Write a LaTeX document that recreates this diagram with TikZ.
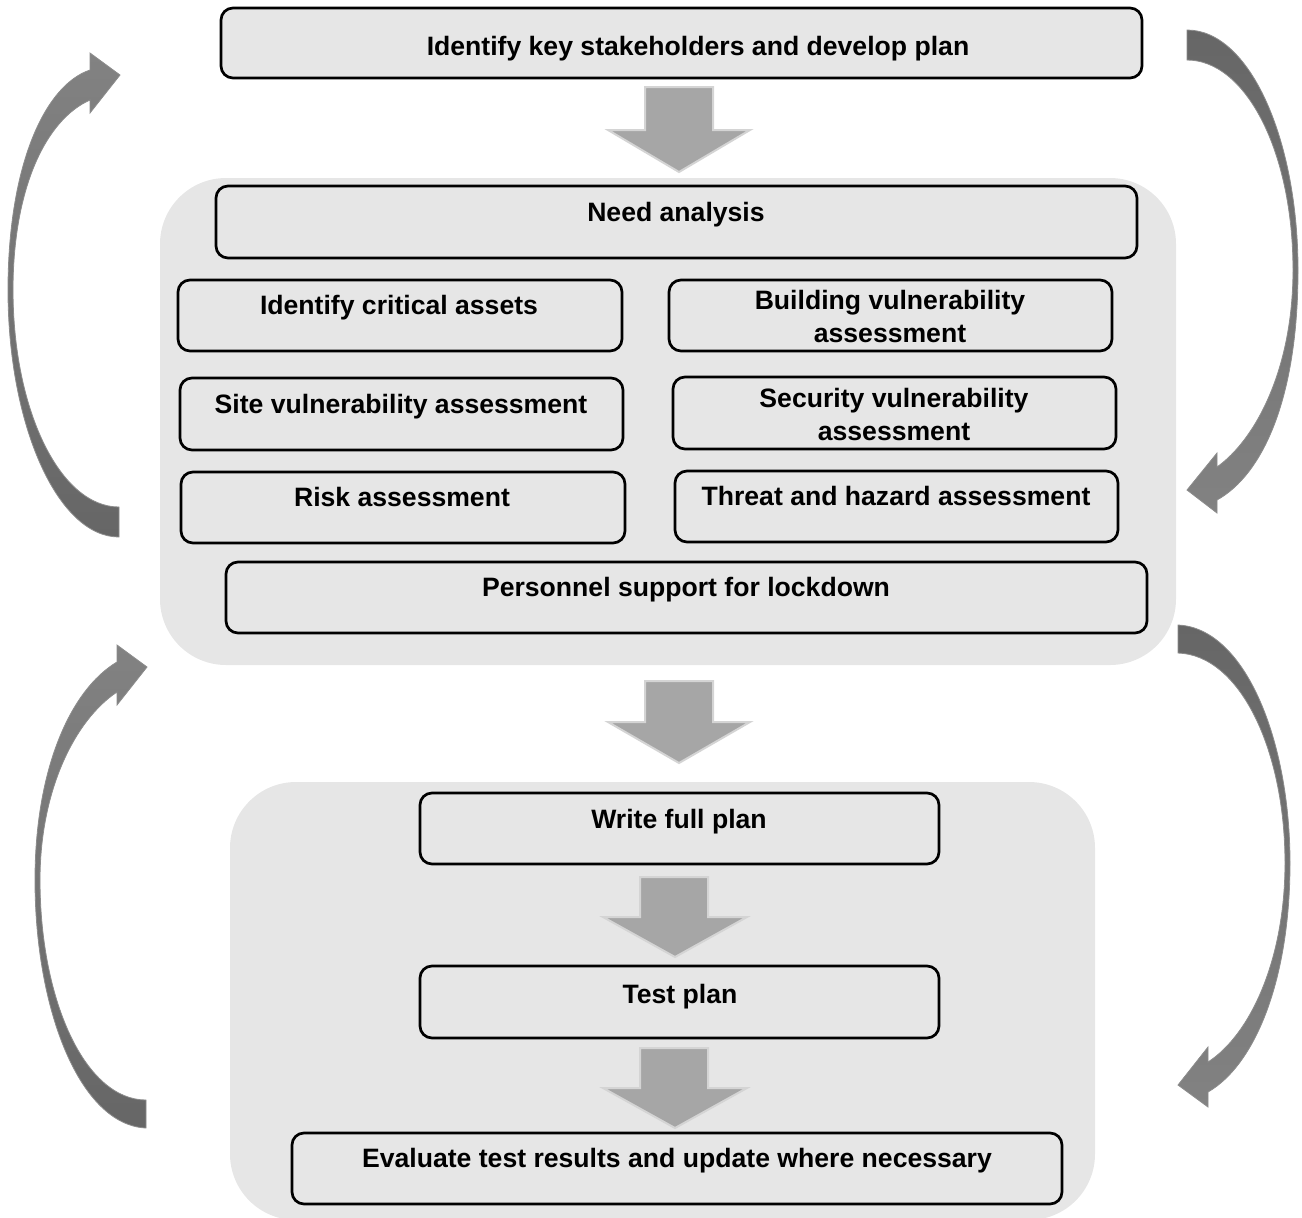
\documentclass[tikz,border=0pt]{standalone}
\usepackage{fontspec}
\setmainfont{Liberation Sans}
\definecolor{panel}{HTML}{E6E6E6}
\definecolor{boxfill}{HTML}{E6E6E6}
\definecolor{blk}{HTML}{A6A6A6}
\definecolor{blkedge}{HTML}{D4D4D4}
\definecolor{cdark}{HTML}{666666}
\definecolor{clight}{HTML}{828282}
\definecolor{cedge}{HTML}{8C8C8C}
\begin{document}
\begin{tikzpicture}[x=0.5pt,y=-0.5pt,
  panelbox/.style={fill=panel, rounded corners=33pt, inner sep=0pt, outer sep=0pt},
  stepbox/.style={draw=black, line width=1.35pt, fill=boxfill, rounded corners=6pt, inner sep=0pt, outer sep=0pt},
  lbl/.style={anchor=base, font=\bfseries\fontsize{13.3}{16.5}\selectfont, inner sep=0pt, align=center},
  blockarrow/.style={fill=blk, draw=blkedge, line width=1pt, line join=miter},
  curveL/.style={top color=clight, bottom color=cdark, draw=cedge, line width=0.4pt},
  curveR/.style={top color=cdark, bottom color=clight, draw=cedge, line width=0.4pt}]
\useasboundingbox (0,0) rectangle (1302,1217);

% panels
\node[panelbox, minimum width=508pt, minimum height=243.5pt] (p1) at (668,421.5) {};
\node[panelbox, minimum width=432.5pt, minimum height=219pt] (p2) at (662.5,1001) {};

% curved arrows
\shade[curveL] (119,537) .. controls (58,537) and (8,426) .. (8,290) .. controls (8,165) and (45,85) .. (90,70) -- (90,53) -- (120,75) -- (90,113) -- (90,100) .. controls (45,120) and (13,190) .. (13,290) .. controls (13,410) and (60,507) .. (119,507) -- cycle;
\shade[curveR] (1187,30) .. controls (1250,30) and (1298,140) .. (1298,270) .. controls (1298,400) and (1262,475) .. (1217,500) -- (1217,513) -- (1187,490) -- (1217,453) -- (1217,467) .. controls (1255,440) and (1293,370) .. (1293,270) .. controls (1293,150) and (1245,60) .. (1187,60) -- cycle;
\shade[curveL] (146,1128) .. controls (80,1125) and (35,1010) .. (35,880) .. controls (35,770) and (70,690) .. (117,662) -- (117,645) -- (147,667) -- (117,705) -- (117,692) .. controls (75,720) and (40,790) .. (40,880) .. controls (40,1000) and (85,1100) .. (146,1100) -- cycle;
\shade[curveR] (1178,625) .. controls (1245,628) and (1290,740) .. (1290,863) .. controls (1290,980) and (1255,1065) .. (1208,1092) -- (1208,1107) -- (1178,1085) -- (1208,1047) -- (1208,1062) .. controls (1250,1035) and (1285,960) .. (1285,863) .. controls (1285,750) and (1240,655) .. (1178,653) -- cycle;

% boxes
\node[stepbox, minimum width=460.5pt, minimum height=35pt] (top) at (681.5,43) {};
\node[stepbox, minimum width=460.5pt, minimum height=36pt] (need) at (676.5,222) {};
\node[stepbox, minimum width=222pt, minimum height=35.5pt] (crit) at (400,315.5) {};
\node[stepbox, minimum width=221.5pt, minimum height=35.5pt] (bldg) at (890.5,315.5) {};
\node[stepbox, minimum width=221.5pt, minimum height=36pt] (site) at (401.5,414) {};
\node[stepbox, minimum width=221.5pt, minimum height=36pt] (secu) at (894.5,413) {};
\node[stepbox, minimum width=222pt, minimum height=35.5pt] (risk) at (403,507.5) {};
\node[stepbox, minimum width=221.5pt, minimum height=35.5pt] (thrt) at (896.5,506.5) {};
\node[stepbox, minimum width=460.5pt, minimum height=35.5pt] (pers) at (686.5,597.5) {};
\node[stepbox, minimum width=259.5pt, minimum height=35.5pt] (write) at (679.5,828.5) {};
\node[stepbox, minimum width=259.5pt, minimum height=36pt] (test) at (679.5,1002) {};
\node[stepbox, minimum width=385pt, minimum height=35.5pt] (eval) at (677,1168.5) {};

% labels
\node[lbl] (t-top) at (698,55) {Identify key stakeholders and develop plan};
\node[lbl] (t-need) at (676,221.5) {Need analysis};
\node[lbl] (t-crit) at (399,314) {Identify critical assets};
\node[lbl] (t-bldg) at (890,342.5) {Building vulnerability\\assessment};
\node[lbl] (t-site) at (401,413.5) {Site vulnerability assessment};
\node[lbl] (t-secu) at (894,440.5) {Security vulnerability\\assessment};
\node[lbl] (t-risk) at (402,506.5) {Risk assessment};
\node[lbl] (t-thrt) at (896,505.5) {Threat and hazard assessment};
\node[lbl] (t-pers) at (686,596.5) {Personnel support for lockdown};
\node[lbl] (t-write) at (679,828.5) {Write full plan};
\node[lbl] (t-test) at (680,1003.5) {Test plan};
\node[lbl] (t-eval) at (677,1167.5) {Evaluate test results and update where necessary};

% block arrows
\draw[blockarrow] (645,87) -- (713,87) -- (713,130) -- (750,130) -- (679,172) -- (608,130) -- (645,130) -- cycle;
\draw[blockarrow] (645,681) -- (713,681) -- (713,722) -- (750,722) -- (679,763) -- (608,722) -- (645,722) -- cycle;
\draw[blockarrow] (640,877) -- (708,877) -- (708,917) -- (747,917) -- (675,957) -- (603,917) -- (640,917) -- cycle;
\draw[blockarrow] (640,1048) -- (708,1048) -- (708,1088) -- (747,1088) -- (675,1128) -- (603,1088) -- (640,1088) -- cycle;
\end{tikzpicture}
\end{document}
